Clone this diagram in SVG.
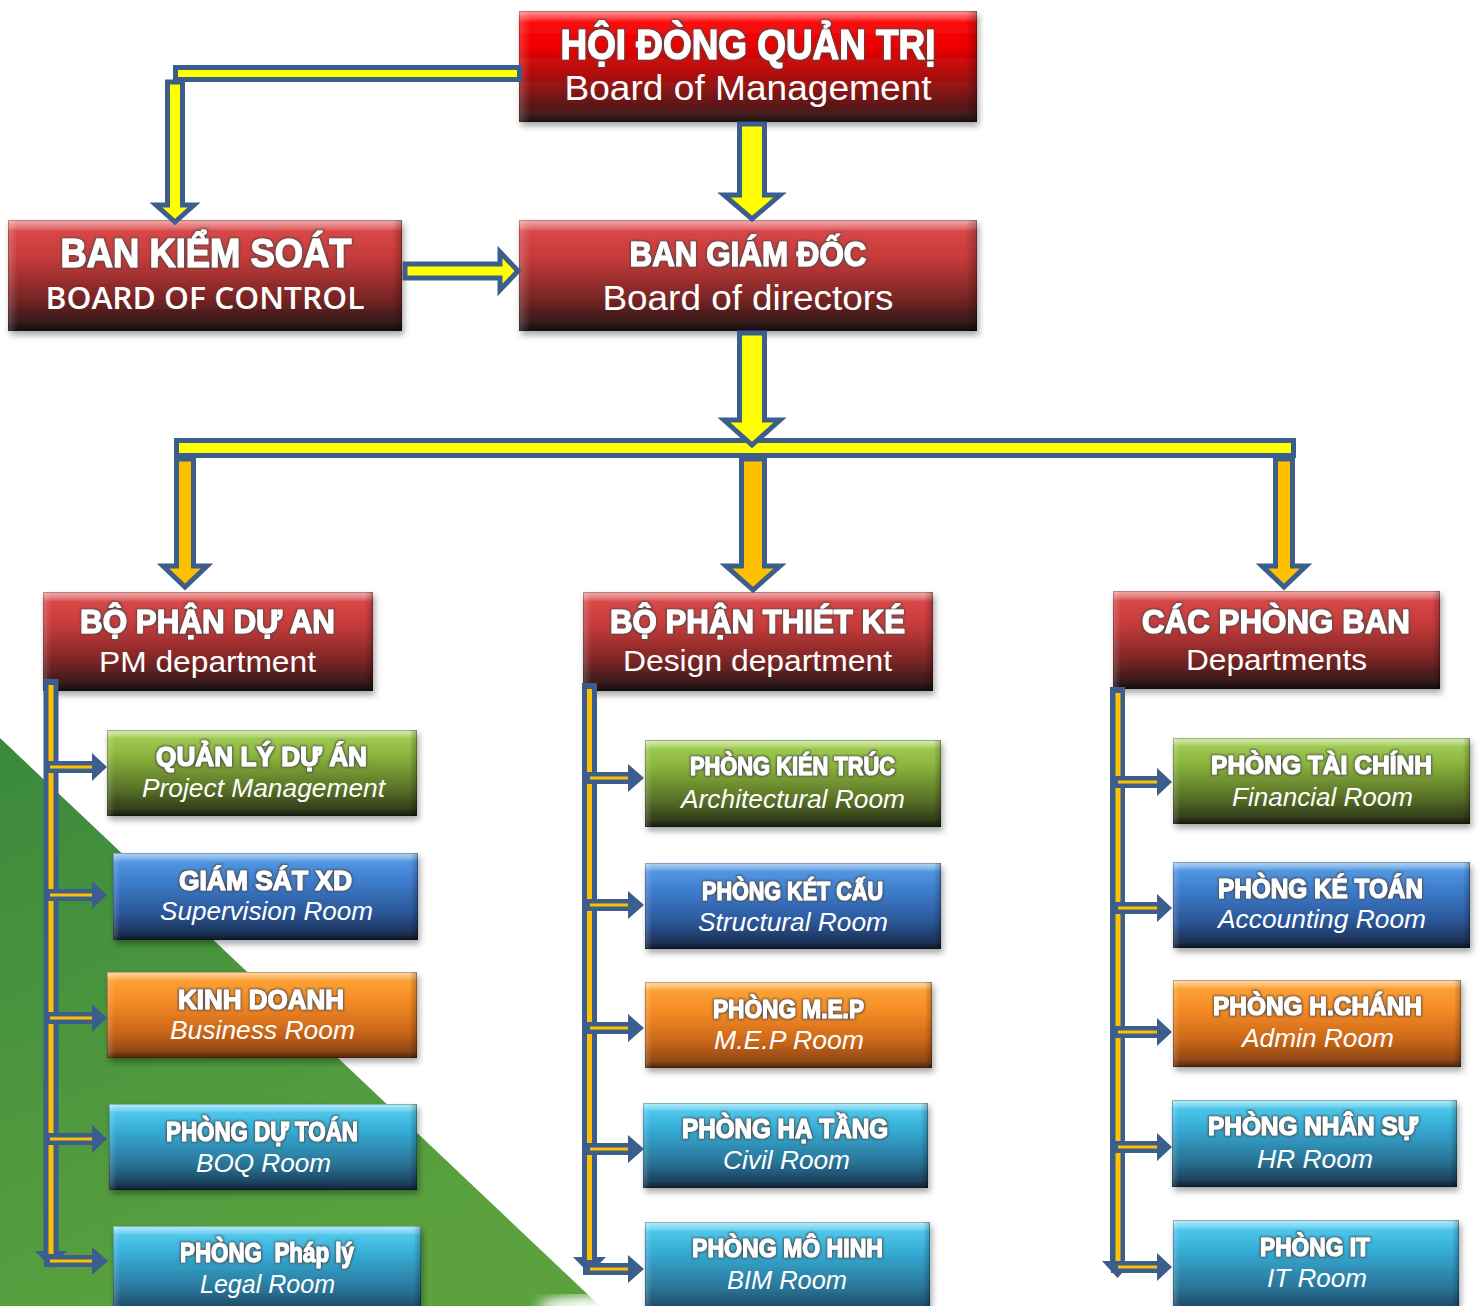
<svg xmlns="http://www.w3.org/2000/svg" width="1480" height="1306" viewBox="0 0 1480 1306">
<defs>
<linearGradient id="gR1" x1="0" y1="0" x2="0" y2="1"><stop offset="0" stop-color="#ff1414"/><stop offset="0.3" stop-color="#f00000"/><stop offset="0.65" stop-color="#9c1212"/><stop offset="1" stop-color="#2e1d1d"/></linearGradient>
<linearGradient id="gR2" x1="0" y1="0" x2="0" y2="1"><stop offset="0" stop-color="#e24c4c"/><stop offset="0.35" stop-color="#c43a3a"/><stop offset="0.7" stop-color="#7a2525"/><stop offset="1" stop-color="#1f1616"/></linearGradient>
<linearGradient id="gG" x1="0" y1="0" x2="0" y2="1"><stop offset="0" stop-color="#a8d45c"/><stop offset="0.3" stop-color="#8ab43c"/><stop offset="0.7" stop-color="#566e26"/><stop offset="1" stop-color="#232b15"/></linearGradient>
<linearGradient id="gB" x1="0" y1="0" x2="0" y2="1"><stop offset="0" stop-color="#5ca2ea"/><stop offset="0.3" stop-color="#3f7fd0"/><stop offset="0.7" stop-color="#2a5596"/><stop offset="1" stop-color="#16253f"/></linearGradient>
<linearGradient id="gO" x1="0" y1="0" x2="0" y2="1"><stop offset="0" stop-color="#ffaa3c"/><stop offset="0.35" stop-color="#f58a24"/><stop offset="0.7" stop-color="#c8661a"/><stop offset="1" stop-color="#7a3c10"/></linearGradient>
<linearGradient id="gT" x1="0" y1="0" x2="0" y2="1"><stop offset="0" stop-color="#5cd2f2"/><stop offset="0.3" stop-color="#35aed8"/><stop offset="0.7" stop-color="#2a7396"/><stop offset="1" stop-color="#17304a"/></linearGradient>
<linearGradient id="glossV" x1="0" y1="0" x2="0" y2="1"><stop offset="0" stop-color="#fff" stop-opacity="0.55"/><stop offset="0.07" stop-color="#fff" stop-opacity="0.22"/><stop offset="0.1" stop-color="#fff" stop-opacity="0"/><stop offset="0.92" stop-color="#000" stop-opacity="0"/><stop offset="1" stop-color="#000" stop-opacity="0.35"/></linearGradient>
<linearGradient id="glossH" x1="0" y1="0" x2="1" y2="0"><stop offset="0" stop-color="#fff" stop-opacity="0.2"/><stop offset="0.025" stop-color="#fff" stop-opacity="0"/><stop offset="0.975" stop-color="#000" stop-opacity="0"/><stop offset="1" stop-color="#000" stop-opacity="0.25"/></linearGradient>
<linearGradient id="gBg" x1="0" y1="0" x2="0.4" y2="1"><stop offset="0" stop-color="#3a893c"/><stop offset="1" stop-color="#5ba23f"/></linearGradient>
<filter id="sh" x="-5%" y="-10%" width="112%" height="130%"><feDropShadow dx="2" dy="4" stdDeviation="3" flood-color="#000" flood-opacity="0.35"/></filter>
<filter id="halo" x="-10%" y="-40%" width="120%" height="180%">
<feMorphology in="SourceAlpha" operator="dilate" radius="1.2" result="d"/>
<feGaussianBlur in="d" stdDeviation="1" result="b"/>
<feFlood flood-color="#4a4a4a" flood-opacity="0.85"/>
<feComposite in2="b" operator="in" result="s"/>
<feMerge><feMergeNode in="s"/><feMergeNode in="SourceGraphic"/></feMerge>
</filter>
<filter id="blur8"><feGaussianBlur stdDeviation="6"/></filter>
<style>
.box{filter:url(#sh)}
.gv{fill:url(#glossV)}
.gh{fill:url(#glossH)}
.bd{fill:none;stroke:#000;stroke-opacity:0.25;stroke-width:1}
.t{font-family:"Liberation Sans",Arial,sans-serif;font-weight:700;fill:#fff;stroke:#fff;stroke-width:1.2;stroke-linejoin:round;text-anchor:middle;filter:url(#halo)}
.s{font-family:"Liberation Sans",Arial,sans-serif;fill:#fff;text-anchor:middle}
.bc{font-family:"Open Sans","Liberation Sans",sans-serif;font-weight:600}
.it{font-style:italic}
.cy{fill:#ffff00;stroke:#3b5e8c;stroke-width:5;stroke-linejoin:miter}
.co{fill:#ffc000;stroke:#3b5e8c;stroke-width:5;stroke-linejoin:miter}
.vb{stroke:#3b5e8c;stroke-width:15;fill:none}
.vo{stroke:#ffc000;stroke-width:5;fill:none}
.bb{stroke:#3b5e8c;stroke-width:12;fill:none}
.bo{stroke:#ffc000;stroke-width:3;fill:none}
.ah{fill:#3b5e8c}
</style>
</defs>

<rect x="0" y="0" width="1480" height="1306" fill="#ffffff"/>
<polygon points="0,738 600,1306 0,1306" fill="url(#gBg)"/>
<ellipse cx="600" cy="1306" rx="62" ry="10" fill="#ffffff" filter="url(#blur8)"/>

<g id="n-hdqt">
<rect class="box" x="519" y="11" width="458" height="111" fill="url(#gR1)"/>
<rect class="gv" x="519" y="11" width="458" height="111"/><rect class="gh" x="519" y="11" width="458" height="111"/><rect class="bd" x="519.5" y="11.5" width="457" height="110"/>
<text class="t" x="748" y="59" font-size="42" textLength="375" lengthAdjust="spacingAndGlyphs">HỘI ĐÒNG QUẢN TRỊ</text>
<text class="s" x="748" y="100" font-size="35" textLength="367" lengthAdjust="spacingAndGlyphs">Board of Management</text>
</g>

<g id="n-bks">
<rect class="box" x="8" y="220" width="394" height="111" fill="url(#gR2)"/>
<rect class="gv" x="8" y="220" width="394" height="111"/><rect class="gh" x="8" y="220" width="394" height="111"/><rect class="bd" x="8.5" y="220.5" width="393" height="110"/>
<text class="t" x="206" y="267" font-size="40" textLength="291" lengthAdjust="spacingAndGlyphs">BAN KIỂM SOÁT</text>
<text class="s bc" x="205" y="309" font-size="31" textLength="319" lengthAdjust="spacingAndGlyphs">BOARD OF CONTROL</text>
</g>

<g id="n-bgd">
<rect class="box" x="519" y="220" width="458" height="111" fill="url(#gR2)"/>
<rect class="gv" x="519" y="220" width="458" height="111"/><rect class="gh" x="519" y="220" width="458" height="111"/><rect class="bd" x="519.5" y="220.5" width="457" height="110"/>
<text class="t" x="748" y="266" font-size="35" textLength="237" lengthAdjust="spacingAndGlyphs">BAN GIÁM ĐỐC</text>
<text class="s" x="748" y="310" font-size="35" textLength="291" lengthAdjust="spacingAndGlyphs">Board of directors</text>
</g>

<g id="n-bpda">
<rect class="box" x="43" y="592" width="330" height="99" fill="url(#gR2)"/>
<rect class="gv" x="43" y="592" width="330" height="99"/><rect class="gh" x="43" y="592" width="330" height="99"/><rect class="bd" x="43.5" y="592.5" width="329" height="98"/>
<text class="t" x="207.5" y="633" font-size="34" textLength="255" lengthAdjust="spacingAndGlyphs">BỘ PHẬN DỰ AN</text>
<text class="s" x="207.5" y="672" font-size="30" textLength="217" lengthAdjust="spacingAndGlyphs">PM department</text>
</g>

<g id="n-bptk">
<rect class="box" x="583" y="592" width="350" height="99" fill="url(#gR2)"/>
<rect class="gv" x="583" y="592" width="350" height="99"/><rect class="gh" x="583" y="592" width="350" height="99"/><rect class="bd" x="583.5" y="592.5" width="349" height="98"/>
<text class="t" x="757.5" y="633" font-size="34" textLength="295" lengthAdjust="spacingAndGlyphs">BỘ PHẬN THIÉT KÉ</text>
<text class="s" x="757.5" y="671" font-size="30" textLength="269" lengthAdjust="spacingAndGlyphs">Design department</text>
</g>

<g id="n-cpb">
<rect class="box" x="1113" y="591" width="327" height="98" fill="url(#gR2)"/>
<rect class="gv" x="1113" y="591" width="327" height="98"/><rect class="gh" x="1113" y="591" width="327" height="98"/><rect class="bd" x="1113.5" y="591.5" width="326" height="97"/>
<text class="t" x="1276" y="633" font-size="34" textLength="268" lengthAdjust="spacingAndGlyphs">CÁC PHÒNG BAN</text>
<text class="s" x="1276.5" y="670" font-size="30" textLength="181" lengthAdjust="spacingAndGlyphs">Departments</text>
</g>

<g id="n-qlda">
<rect class="box" x="107" y="730" width="310" height="86" fill="url(#gG)"/>
<rect class="gv" x="107" y="730" width="310" height="86"/><rect class="gh" x="107" y="730" width="310" height="86"/><rect class="bd" x="107.5" y="730.5" width="309" height="85"/>
<text class="t" x="261.5" y="766" font-size="27" textLength="211" lengthAdjust="spacingAndGlyphs">QUẢN LÝ DỰ ÁN</text>
<text class="s it" x="263.5" y="797" font-size="25" textLength="243" lengthAdjust="spacingAndGlyphs">Project Management</text>
</g>

<g id="n-gsxd">
<rect class="box" x="113" y="853" width="305" height="87" fill="url(#gB)"/>
<rect class="gv" x="113" y="853" width="305" height="87"/><rect class="gh" x="113" y="853" width="305" height="87"/><rect class="bd" x="113.5" y="853.5" width="304" height="86"/>
<text class="t" x="265.5" y="890" font-size="27" textLength="173" lengthAdjust="spacingAndGlyphs">GIÁM SÁT XD</text>
<text class="s it" x="266.5" y="920" font-size="25" textLength="213" lengthAdjust="spacingAndGlyphs">Supervision Room</text>
</g>

<g id="n-kd">
<rect class="box" x="107" y="972" width="310" height="86" fill="url(#gO)"/>
<rect class="gv" x="107" y="972" width="310" height="86"/><rect class="gh" x="107" y="972" width="310" height="86"/><rect class="bd" x="107.5" y="972.5" width="309" height="85"/>
<text class="t" x="261" y="1009" font-size="27" textLength="166" lengthAdjust="spacingAndGlyphs">KINH DOANH</text>
<text class="s it" x="262.5" y="1039" font-size="25" textLength="185" lengthAdjust="spacingAndGlyphs">Business Room</text>
</g>

<g id="n-dt">
<rect class="box" x="109" y="1104" width="308" height="86" fill="url(#gT)"/>
<rect class="gv" x="109" y="1104" width="308" height="86"/><rect class="gh" x="109" y="1104" width="308" height="86"/><rect class="bd" x="109.5" y="1104.5" width="307" height="85"/>
<text class="t" x="262" y="1141" font-size="27" textLength="192" lengthAdjust="spacingAndGlyphs">PHÒNG DỰ TOÁN</text>
<text class="s it" x="263.5" y="1172" font-size="25" textLength="135" lengthAdjust="spacingAndGlyphs">BOQ Room</text>
</g>

<g id="n-pl">
<rect class="box" x="113" y="1226" width="308" height="92" fill="url(#gT)"/>
<rect class="gv" x="113" y="1226" width="308" height="92"/><rect class="gh" x="113" y="1226" width="308" height="92"/><rect class="bd" x="113.5" y="1226.5" width="307" height="91"/>
<text class="t" x="267" y="1262" font-size="27" textLength="174" lengthAdjust="spacingAndGlyphs" xml:space="preserve">PHÒNG  Pháp lý</text>
<text class="s it" x="267.5" y="1293" font-size="25" textLength="135" lengthAdjust="spacingAndGlyphs">Legal Room</text>
</g>

<g id="n-kientruc">
<rect class="box" x="645" y="740" width="296" height="87" fill="url(#gG)"/>
<rect class="gv" x="645" y="740" width="296" height="87"/><rect class="gh" x="645" y="740" width="296" height="87"/><rect class="bd" x="645.5" y="740.5" width="295" height="86"/>
<text class="t" x="792.5" y="775" font-size="26" textLength="205" lengthAdjust="spacingAndGlyphs">PHÒNG KIÉN TRÚC</text>
<text class="s it" x="793" y="808" font-size="25" textLength="224" lengthAdjust="spacingAndGlyphs">Architectural Room</text>
</g>

<g id="n-ketcau">
<rect class="box" x="645" y="863" width="296" height="86" fill="url(#gB)"/>
<rect class="gv" x="645" y="863" width="296" height="86"/><rect class="gh" x="645" y="863" width="296" height="86"/><rect class="bd" x="645.5" y="863.5" width="295" height="85"/>
<text class="t" x="792.5" y="900" font-size="26" textLength="181" lengthAdjust="spacingAndGlyphs">PHÒNG KÉT CẤU</text>
<text class="s it" x="793" y="931" font-size="25" textLength="190" lengthAdjust="spacingAndGlyphs">Structural Room</text>
</g>

<g id="n-mep">
<rect class="box" x="645" y="982" width="287" height="86" fill="url(#gO)"/>
<rect class="gv" x="645" y="982" width="287" height="86"/><rect class="gh" x="645" y="982" width="287" height="86"/><rect class="bd" x="645.5" y="982.5" width="286" height="85"/>
<text class="t" x="788.5" y="1018" font-size="26" textLength="151" lengthAdjust="spacingAndGlyphs">PHÒNG M.E.P</text>
<text class="s it" x="789" y="1049" font-size="25" textLength="150" lengthAdjust="spacingAndGlyphs">M.E.P Room</text>
</g>

<g id="n-hatang">
<rect class="box" x="643" y="1103" width="285" height="85" fill="url(#gT)"/>
<rect class="gv" x="643" y="1103" width="285" height="85"/><rect class="gh" x="643" y="1103" width="285" height="85"/><rect class="bd" x="643.5" y="1103.5" width="284" height="84"/>
<text class="t" x="785" y="1138" font-size="27" textLength="206" lengthAdjust="spacingAndGlyphs">PHÒNG HẠ TẦNG</text>
<text class="s it" x="786.5" y="1169" font-size="25" textLength="127" lengthAdjust="spacingAndGlyphs">Civil Room</text>
</g>

<g id="n-mohinh">
<rect class="box" x="645" y="1222" width="285" height="96" fill="url(#gT)"/>
<rect class="gv" x="645" y="1222" width="285" height="96"/><rect class="gh" x="645" y="1222" width="285" height="96"/><rect class="bd" x="645.5" y="1222.5" width="284" height="95"/>
<text class="t" x="787.5" y="1257" font-size="26" textLength="191" lengthAdjust="spacingAndGlyphs">PHÒNG MÔ HINH</text>
<text class="s it" x="787" y="1289" font-size="25" textLength="120" lengthAdjust="spacingAndGlyphs">BIM Room</text>
</g>

<g id="n-taichinh">
<rect class="box" x="1173" y="738" width="297" height="86" fill="url(#gG)"/>
<rect class="gv" x="1173" y="738" width="297" height="86"/><rect class="gh" x="1173" y="738" width="297" height="86"/><rect class="bd" x="1173.5" y="738.5" width="296" height="85"/>
<text class="t" x="1321.5" y="774" font-size="26" textLength="221" lengthAdjust="spacingAndGlyphs">PHÒNG TÀI CHÍNH</text>
<text class="s it" x="1322.5" y="806" font-size="25" textLength="181" lengthAdjust="spacingAndGlyphs">Financial Room</text>
</g>

<g id="n-ketoan">
<rect class="box" x="1173" y="862" width="297" height="86" fill="url(#gB)"/>
<rect class="gv" x="1173" y="862" width="297" height="86"/><rect class="gh" x="1173" y="862" width="297" height="86"/><rect class="bd" x="1173.5" y="862.5" width="296" height="85"/>
<text class="t" x="1320.5" y="898" font-size="27" textLength="205" lengthAdjust="spacingAndGlyphs">PHÒNG KÉ TOÁN</text>
<text class="s it" x="1322" y="928" font-size="25" textLength="208" lengthAdjust="spacingAndGlyphs">Accounting Room</text>
</g>

<g id="n-hchanh">
<rect class="box" x="1173" y="980" width="288" height="87" fill="url(#gO)"/>
<rect class="gv" x="1173" y="980" width="288" height="87"/><rect class="gh" x="1173" y="980" width="288" height="87"/><rect class="bd" x="1173.5" y="980.5" width="287" height="86"/>
<text class="t" x="1317.5" y="1015" font-size="26" textLength="209" lengthAdjust="spacingAndGlyphs">PHÒNG H.CHÁNH</text>
<text class="s it" x="1318" y="1047" font-size="25" textLength="152" lengthAdjust="spacingAndGlyphs">Admin Room</text>
</g>

<g id="n-nhansu">
<rect class="box" x="1172" y="1100" width="285" height="87" fill="url(#gT)"/>
<rect class="gv" x="1172" y="1100" width="285" height="87"/><rect class="gh" x="1172" y="1100" width="285" height="87"/><rect class="bd" x="1172.5" y="1100.5" width="284" height="86"/>
<text class="t" x="1313" y="1135" font-size="26" textLength="210" lengthAdjust="spacingAndGlyphs">PHÒNG NHÂN SỰ</text>
<text class="s it" x="1315" y="1168" font-size="25" textLength="116" lengthAdjust="spacingAndGlyphs">HR Room</text>
</g>

<g id="n-it">
<rect class="box" x="1173" y="1220" width="286" height="98" fill="url(#gT)"/>
<rect class="gv" x="1173" y="1220" width="286" height="98"/><rect class="gh" x="1173" y="1220" width="286" height="98"/><rect class="bd" x="1173.5" y="1220.5" width="285" height="97"/>
<text class="t" x="1315" y="1256" font-size="26" textLength="110" lengthAdjust="spacingAndGlyphs">PHÒNG IT</text>
<text class="s it" x="1317" y="1287" font-size="25" textLength="100" lengthAdjust="spacingAndGlyphs">IT Room</text>
</g>

<g id="connectors">
<!-- HĐQT to BKS -->
<rect class="cy" x="175.5" y="67.5" width="344" height="12"/>
<polygon class="cy" points="167.5,82 182.5,82 182.5,205 194,205 175,222 156,205 167.5,205"/>
<!-- HĐQT to BGĐ -->
<polygon class="cy" points="739.5,124 764.5,124 764.5,195 780,195 752,219 724,195 739.5,195"/>
<!-- BKS to BGĐ -->
<polygon class="cy" points="405,264 500,264 500,252 518,271 500,290 500,278 405,278"/>
<!-- distribution bar -->
<rect class="cy" x="176.5" y="440.5" width="1117" height="15"/>
<polygon class="cy" points="739.5,333 764.5,333 764.5,420 780,420 752,445 724,420 739.5,420"/>
<!-- down arrows to departments -->
<polygon class="co" points="176.5,459 193.5,459 193.5,566 207,566 185,587 163,566 176.5,566"/>
<polygon class="co" points="741.5,459 764.5,459 764.5,566 780,566 753,590 726,566 741.5,566"/>
<polygon class="co" points="1275.5,459 1292.5,459 1292.5,566 1306,566 1284,587 1262,566 1275.5,566"/>

<!-- left column -->
<line class="vb" x1="51" y1="679" x2="51" y2="1254"/>
<polygon class="ah" points="35,1251 67,1251 51,1268"/>
<line class="vo" x1="51" y1="685" x2="51" y2="1254"/>
<path class="bb" d="M44,767H93M44,895H93M44,1018H93M44,1139H93M44,1261H93"/>
<path class="bo" d="M50,767H94M50,895H94M50,1018H94M50,1139H94M50,1261H94"/>
<path class="ah" d="M92,753L107,767L92,781ZM92,881L107,895L92,909ZM92,1004L107,1018L92,1032ZM92,1125L107,1139L92,1153ZM92,1247L108,1261L92,1275Z"/>

<!-- middle column -->
<line class="vb" x1="589.5" y1="683" x2="589.5" y2="1260"/>
<polygon class="ah" points="573,1257 606,1257 589.5,1274"/>
<line class="vo" x1="589.5" y1="689" x2="589.5" y2="1260"/>
<path class="bb" d="M583,778H629M583,905H629M583,1028H629M583,1149H629M583,1269H629"/>
<path class="bo" d="M590,778H630M590,905H630M590,1028H630M590,1149H630M590,1269H630"/>
<path class="ah" d="M628,764L644,778L628,792ZM628,891L644,905L628,919ZM628,1014L644,1028L628,1042ZM628,1135L644,1149L628,1163ZM628,1255L644,1269L628,1283Z"/>

<!-- right column -->
<line class="vb" x1="1117.5" y1="687" x2="1117.5" y2="1264"/>
<polygon class="ah" points="1102,1261 1133,1261 1117.5,1278"/>
<line class="vo" x1="1118" y1="693" x2="1118" y2="1264"/>
<path class="bb" d="M1111,782H1158M1111,908H1158M1111,1032H1158M1111,1147H1158M1111,1267H1158"/>
<path class="bo" d="M1118,782H1159M1118,908H1159M1118,1032H1159M1118,1147H1159M1118,1267H1159"/>
<path class="ah" d="M1157,768L1172,782L1157,796ZM1157,894L1172,908L1157,922ZM1157,1018L1172,1032L1157,1046ZM1157,1133L1172,1147L1157,1161ZM1157,1253L1172,1267L1157,1281Z"/>
</g>
</svg>
